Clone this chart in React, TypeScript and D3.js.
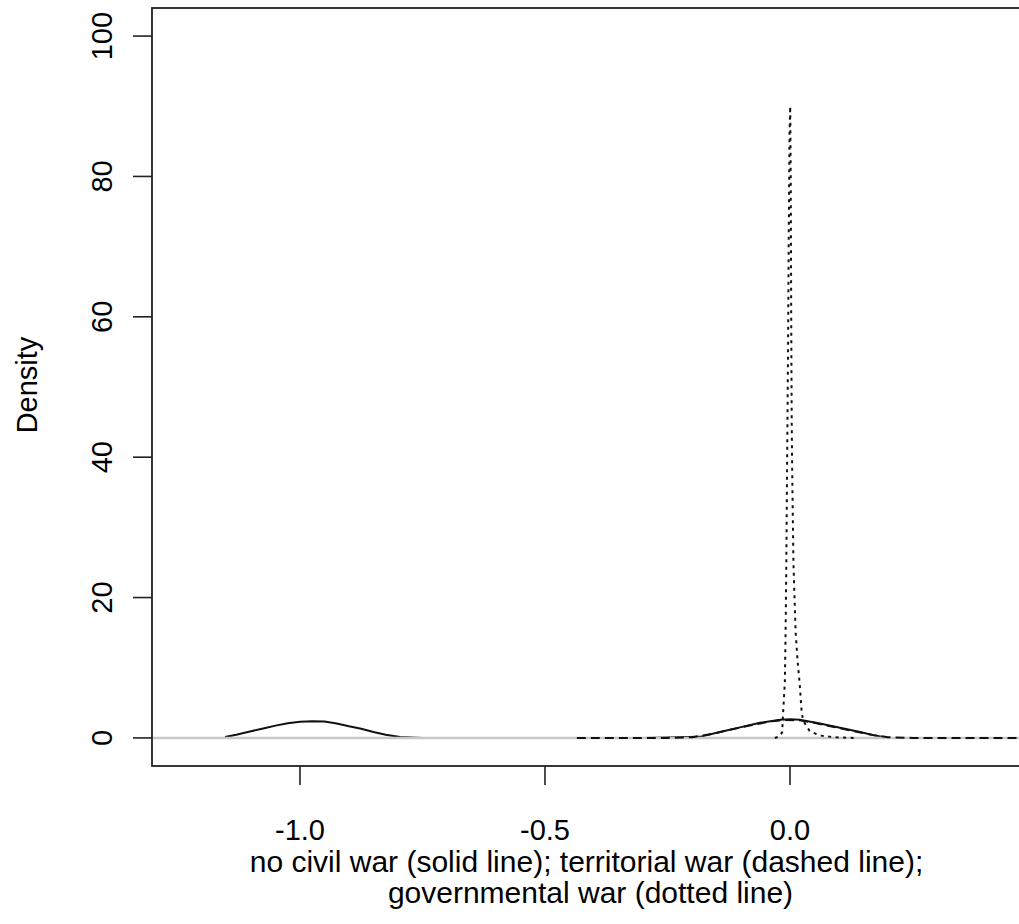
import React from 'react';
import * as d3 from 'd3';

// ---- data ----
const xTicks = [-1.0, -0.5, 0.0];
const xTickLabels = ['-1.0', '-0.5', '0.0'];
const yTicks = [0, 20, 40, 60, 80, 100];
const yTickLabels = ['0', '20', '40', '60', '80', '100'];

// no civil war (solid)
const solidX = [-1.153, -1.13, -1.1, -1.075, -1.05, -1.025, -1.0, -0.975, -0.95, -0.925, -0.9, -0.875, -0.85, -0.825, -0.796, -0.75, -0.3, -0.184, -0.143, -0.102, -0.061, -0.02, 0.0, 0.02, 0.061, 0.102, 0.143, 0.17, 0.19];
const solidY = [0.12, 0.45, 0.95, 1.35, 1.75, 2.1, 2.32, 2.38, 2.33, 2.05, 1.65, 1.3, 0.85, 0.45, 0.12, 0, 0, 0.15, 0.85, 1.5, 2.15, 2.58, 2.65, 2.6, 2.05, 1.45, 0.85, 0.4, 0.12];

// territorial war (dashed)
const dashedX = [-0.435, -0.25, -0.2, -0.16, -0.12, -0.08, -0.04, -0.01, 0.02, 0.05, 0.09, 0.13, 0.17, 0.2, 0.25, 0.5];
const dashedY = [0, 0, 0.1, 0.55, 1.2, 1.8, 2.35, 2.55, 2.5, 2.15, 1.55, 0.95, 0.4, 0.1, 0, 0];

// governmental war (dotted)
const dottedX = [-0.031, -0.022, -0.016, -0.0145, -0.0105, -0.009, -0.0075, -0.006, -0.004, -0.0025, -0.001, 0.0005, 0.0015, 0.0025, 0.0035, 0.0045, 0.007, 0.0115, 0.0155, 0.02, 0.0235, 0.0265, 0.04, 0.06, 0.09, 0.13];
const dottedY = [0, 0.2, 0.8, 3, 8, 15, 25, 38, 55, 72, 86, 90, 80, 60, 45, 38, 25, 15, 11, 7.5, 4, 2.5, 1.0, 0.35, 0.1, 0];

const xLabelLine1 = 'no civil war (solid line); territorial war (dashed line);';
const xLabelLine2 = 'governmental war (dotted line)';
const yLabel = 'Density';

export default function App() {
  const W = 1019, H = 924;
  const left = 152, right = 1035, top = 8, bottom = 766;
  const x = d3.scaleLinear().domain([-1.302, 0.5]).range([left, right]);
  const y = d3.scaleLinear().domain([-4, 104]).range([bottom, top]);

  const line = d3.line<[number, number]>().x(d => x(d[0])).y(d => y(d[1]));
  const zip = (a: number[], b: number[]) => a.map((v, i) => [v, b[i]] as [number, number]);

  const font = '"Liberation Sans", Arial, sans-serif';
  const ink = '#111';

  return (
    <svg width={W} height={H} style={{ position: 'absolute', left: 0, top: 0, background: '#fff' }}>
      <rect x={0} y={0} width={W} height={H} fill="#fff" />
      <defs>
        <clipPath id="plotclip">
          <rect x={left} y={top} width={right - left} height={bottom - top} />
        </clipPath>
      </defs>
      <g clipPath="url(#plotclip)">
        <path d={line(zip(solidX, solidY)) || ''} fill="none" stroke={ink} strokeWidth={2} />
        <line x1={left} x2={right} y1={y(0)} y2={y(0)} stroke="#c8c8c8" strokeWidth={2.4} />
        <path d={line(zip(dashedX, dashedY)) || ''} fill="none" stroke={ink} strokeWidth={2} strokeDasharray="9,5" />
        <path d={line(zip(dottedX, dottedY)) || ''} fill="none" stroke={ink} strokeWidth={2} strokeDasharray="3,4.5" />
      </g>
      {/* box */}
      <rect x={left} y={top} width={right - left} height={bottom - top} fill="none" stroke="#222" strokeWidth={1.8} />
      {/* x axis */}
      {xTicks.map((t, i) => (
        <g key={'xt' + i}>
          <line x1={x(t)} x2={x(t)} y1={bottom} y2={bottom + 19} stroke="#222" strokeWidth={1.6} />
          <text x={x(t)} y={840} textAnchor="middle" fontFamily={font} fontSize={29} fill="#000">{xTickLabels[i]}</text>
        </g>
      ))}
      {/* y axis */}
      {yTicks.map((t, i) => (
        <g key={'yt' + i}>
          <line x1={left - 19} x2={left} y1={y(t)} y2={y(t)} stroke="#222" strokeWidth={1.6} />
          <text transform={`translate(112,${y(t)}) rotate(-90)`} textAnchor="middle" fontFamily={font} fontSize={29} fill="#000">{yTickLabels[i]}</text>
        </g>
      ))}
      <text x={(left + 1019) / 2 + 1} y={872} textAnchor="middle" fontFamily={font} fontSize={30} fill="#000">{xLabelLine1}</text>
      <text x={(left + 1019) / 2 + 5} y={903} textAnchor="middle" fontFamily={font} fontSize={30} fill="#000">{xLabelLine2}</text>
      <text transform={`translate(37,385) rotate(-90)`} textAnchor="middle" fontFamily={font} fontSize={29} fill="#000">{yLabel}</text>
    </svg>
  );
}
